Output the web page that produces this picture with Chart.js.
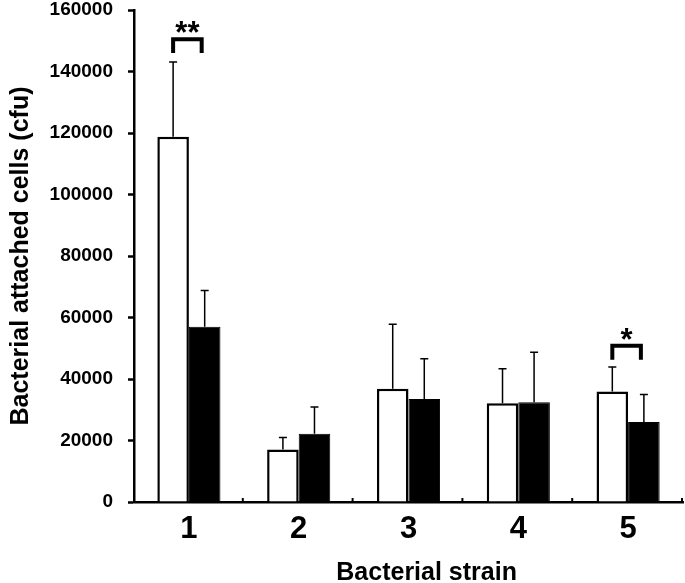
<!DOCTYPE html>
<html>
<head>
<meta charset="utf-8">
<script src="https://cdn.jsdelivr.net/npm/chart.js@4"></script>
<style>
  html, body { margin: 0; padding: 0; background: #fff; }
  canvas { display: block; }
</style>
</head>
<body>
<canvas id="myBarChart" width="685" height="583"></canvas>
<script>
// data
var strains = ['1', '2', '3', '4', '5'];
var whiteValues = [118800, 17100, 36800, 32100, 35900];
var whiteSd = [24300, 3900, 21000, 11200, 8000];
var blackValues = [57000, 22200, 33500, 32400, 26000];
var blackSd = [11800, 8700, 13100, 16300, 9000];
var yTicks = [0, 20000, 40000, 60000, 80000, 100000, 120000, 140000, 160000];

// significance marks: strain index, label, bracket top value
var sigIndex = [0, 4];
var sigLabels = ['**', '*'];
var sigLevels = [150500, 50800];

var FONT = '"Liberation Sans", Arial, sans-serif';
Chart.defaults.font.family = FONT;
Chart.defaults.color = '#000';

var errorBars = {
    id: 'errorBars',
    afterDatasetsDraw: function (chart) {
        var ctx = chart.ctx;
        var y = chart.scales.y;
        var sds = [whiteSd, blackSd];
        ctx.save();
        ctx.strokeStyle = '#000';
        ctx.lineWidth = 1.5;
        chart.data.datasets.forEach(function (ds, d) {
            chart.getDatasetMeta(d).data.forEach(function (bar, i) {
                var top = y.getPixelForValue(ds.data[i] + sds[d][i]);
                ctx.beginPath();
                ctx.moveTo(bar.x, bar.y);
                ctx.lineTo(bar.x, top);
                ctx.moveTo(bar.x - 4, top);
                ctx.lineTo(bar.x + 4, top);
                ctx.stroke();
            });
        });

        // brackets + stars
        var w = chart.getDatasetMeta(0).data;
        var b = chart.getDatasetMeta(1).data;
        ctx.lineWidth = 4;
        sigIndex.forEach(function (idx, k) {
            var x1 = w[idx].x, x2 = b[idx].x - 3;
            var yt = y.getPixelForValue(sigLevels[k]);
            var yb = y.getPixelForValue(sigLevels[k] - 4500);
            ctx.beginPath();
            ctx.moveTo(x1, yb);
            ctx.lineTo(x1, yt);
            ctx.lineTo(x2, yt);
            ctx.lineTo(x2, yb);
            ctx.stroke();
            ctx.fillStyle = '#000';
            ctx.font = 'bold 31px ' + FONT;
            ctx.textAlign = 'center';
            ctx.textBaseline = 'alphabetic';
            ctx.fillText(sigLabels[k], (x1 + x2) / 2, yt + 4);
        });

        // small tick marks on the x axis at category boundaries
        var area = chart.chartArea;
        var step = (area.right - area.left) / strains.length;
        ctx.lineWidth = 2;
        for (var i = 1; i <= strains.length; i++) {
            var xx = area.left + step * i - 1;
            ctx.beginPath();
            ctx.moveTo(xx, area.bottom);
            ctx.lineTo(xx, area.bottom - 4);
            ctx.stroke();
        }

        // x axis title
        ctx.font = 'bold 25px ' + FONT;
        ctx.textAlign = 'center';
        ctx.textBaseline = 'alphabetic';
        ctx.fillText('Bacterial strain', area.left + (area.right - area.left) * 0.533, 580);
        ctx.restore();
    }
};

function initBarChart() {
    var ctx = document.getElementById('myBarChart');
    new Chart(ctx, {
        type: 'bar',
        data: {
            labels: strains,
            datasets: [{
                data: whiteValues,
                backgroundColor: '#fff',
                borderColor: '#000',
                borderWidth: 2.5,
                borderSkipped: 'bottom'
            }, {
                data: blackValues,
                backgroundColor: '#000',
                borderColor: '#000',
                borderWidth: 1,
                borderSkipped: 'bottom'
            }]
        },
        options: {
            responsive: false,
            animation: false,
            categoryPercentage: 0.575,
            barPercentage: 1.0,
            layout: { padding: { left: 0, right: 2, top: 10, bottom: 0 } },
            plugins: {
                legend: { display: false },
                tooltip: { enabled: false }
            },
            scales: {
                x: {
                    grid: { display: false },
                    border: { color: '#000', width: 2.5 },
                    ticks: {
                        font: { size: 31, weight: 'bold' },
                        padding: 1
                    },
                    afterFit: function (scale) {
                        scale.height = 81;
                        scale.paddingLeft = 0;
                        scale.paddingRight = 0;
                    }
                },
                y: {
                    min: 0,
                    max: 160000,
                    afterBuildTicks: function (scale) {
                        scale.ticks = yTicks.map(function (v) { return { value: v }; });
                    },
                    grid: {
                        drawOnChartArea: false,
                        drawTicks: true,
                        tickLength: 6,
                        tickWidth: 2.5,
                        tickColor: '#000'
                    },
                    border: { color: '#000', width: 2.5 },
                    ticks: {
                        font: { size: 19, weight: 'bold' },
                        padding: 15,
                        callback: function (v) { return String(v); }
                    },
                    title: {
                        display: true,
                        text: 'Bacterial attached cells (cfu)',
                        font: { size: 25, weight: 'bold' },
                        padding: { top: 6, bottom: 0 }
                    },
                    afterFit: function (scale) {
                        scale.width = 134;
                        scale.paddingTop = 0;
                        scale.paddingBottom = 0;
                    }
                }
            }
        },
        plugins: [errorBars]
    });
}

initBarChart();
</script>
</body>
</html>
